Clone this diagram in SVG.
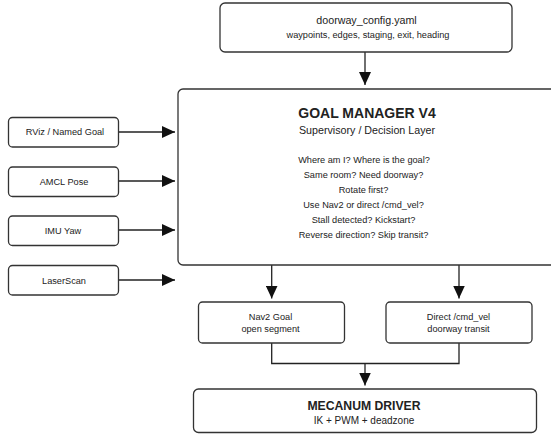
<svg xmlns="http://www.w3.org/2000/svg" width="551" height="436" viewBox="0 0 551 436">
<defs>
<style>
.box{fill:#fff;stroke:#333;stroke-width:1.3}
.t{font-family:"Liberation Sans",Arial,sans-serif;fill:#222;text-anchor:middle}
.s{font-size:9.2px}
.m{font-size:10.7px}
.b{font-weight:bold}
.c{fill:none;stroke:#222;stroke-width:1.3}
</style>
<marker id="ah" markerUnits="userSpaceOnUse" markerWidth="13" markerHeight="12" refX="13" refY="6" orient="auto">
<path d="M0,0 L13,6 L0,12 z" fill="#111"/>
</marker>
</defs>
<rect width="551" height="436" fill="#fff"/>
<g id="connectors">
<line class="c" x1="365" y1="52" x2="365" y2="85" marker-end="url(#ah)"/>
<line class="c" x1="118" y1="132" x2="175" y2="132" marker-end="url(#ah)"/>
<line class="c" x1="118" y1="181" x2="175" y2="181" marker-end="url(#ah)"/>
<line class="c" x1="118" y1="230" x2="175" y2="230" marker-end="url(#ah)"/>
<line class="c" x1="118" y1="280" x2="175" y2="280" marker-end="url(#ah)"/>
<line class="c" x1="271.7" y1="265" x2="271.7" y2="298.5" marker-end="url(#ah)"/>
<line class="c" x1="459" y1="265" x2="459" y2="298.5" marker-end="url(#ah)"/>
<polyline class="c" points="271.7,343 271.7,363.5 459,363.5 459,343"/>
<line class="c" x1="365" y1="363.5" x2="365" y2="385.5" marker-end="url(#ah)"/>
</g>
<g id="config">
<rect class="box" x="220" y="3" width="292" height="49" rx="5"/>
<text class="t m" x="366.5" y="23.5">doorway_config.yaml</text>
<text class="t s" x="368" y="37.5">waypoints, edges, staging, exit, heading</text>
</g>
<g id="rviz">
<rect class="box" x="8.5" y="117.5" width="110" height="29.5" rx="4"/>
<text class="t s" x="65" y="135.3">RViz / Named Goal</text>
</g>
<g id="amcl">
<rect class="box" x="8.5" y="167" width="110" height="29.5" rx="4"/>
<text class="t s" x="64" y="184.5">AMCL Pose</text>
</g>
<g id="imu">
<rect class="box" x="8.5" y="216" width="110" height="29.5" rx="4"/>
<text class="t s" x="63" y="233.5">IMU Yaw</text>
</g>
<g id="laser">
<rect class="box" x="8.5" y="265.5" width="110" height="29.5" rx="4"/>
<text class="t s" x="64" y="283.5">LaserScan</text>
</g>
<g id="goal_manager">
<rect class="box" x="178" y="89" width="380" height="176" rx="5"/>
<text class="t b" x="367" y="118" font-size="14px">GOAL MANAGER V4</text>
<text class="t m" x="367" y="133.5">Supervisory / Decision Layer</text>
<text class="t s" x="364" y="163.2">Where am I? Where is the goal?</text>
<text class="t s" x="363.5" y="178.2">Same room? Need doorway?</text>
<text class="t s" x="363.5" y="193.2">Rotate first?</text>
<text class="t s" x="363.5" y="208.2">Use Nav2 or direct /cmd_vel?</text>
<text class="t s" x="363.5" y="223.2">Stall detected? Kickstart?</text>
<text class="t s" x="363.5" y="238.2">Reverse direction? Skip transit?</text>
</g>
<g id="nav2">
<rect class="box" x="198.5" y="302" width="146" height="41" rx="4"/>
<text class="t s" x="270.5" y="319.5">Nav2 Goal</text>
<text class="t s" x="270.5" y="331.5">open segment</text>
</g>
<g id="direct">
<rect class="box" x="386" y="302" width="146" height="41" rx="4"/>
<text class="t s" x="458.5" y="319.5">Direct /cmd_vel</text>
<text class="t s" x="458.5" y="331.5">doorway transit</text>
</g>
<g id="mecanum">
<rect class="box" x="193.5" y="389" width="343" height="43.5" rx="5"/>
<text class="t b" x="364" y="409.5" font-size="12.2px">MECANUM DRIVER</text>
<text class="t" x="364" y="424" font-size="10px">IK + PWM + deadzone</text>
</g>
</svg>
